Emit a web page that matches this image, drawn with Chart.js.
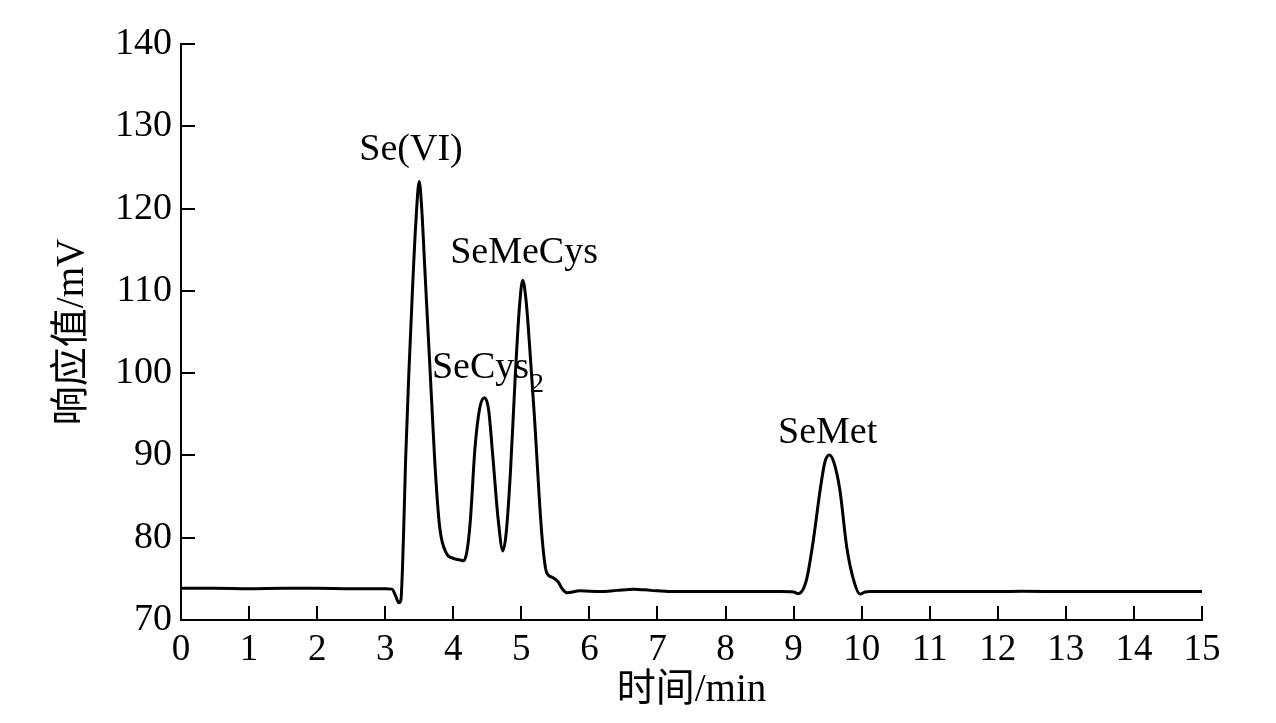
<!DOCTYPE html>
<html>
<head>
<meta charset="utf-8">
<title>Se species chromatogram</title>
<script src="https://cdn.jsdelivr.net/npm/chart.js@4"></script>
<style>
  html, body { margin: 0; padding: 0; background: #fff; }
  #wrap { width: 1276px; height: 723px; }
</style>
</head>
<body>
<div id="wrap"><canvas id="chroma" width="1276" height="723"></canvas></div>
<script>
// retention time (min) and detector response (mV)
const timeMin = [
    0, 0.5, 1, 1.5, 2, 2.5, 3.0, 3.1,
    3.15, 3.2, 3.23, 3.27, 3.3, 3.35, 3.4, 3.45, 3.5,
    3.54, 3.58, 3.63, 3.68, 3.73, 3.8, 3.9, 4.0, 4.1, 4.15,
    4.2, 4.25, 4.32, 4.39, 4.46, 4.52, 4.58, 4.66, 4.73,
    4.78, 4.84, 4.91, 4.97, 5.02, 5.07, 5.12, 5.19, 5.3, 5.37,
    5.45, 5.54, 5.6, 5.675, 5.86, 6.16, 6.4, 6.65, 6.9, 7.2,
    8, 8.8, 9.0, 9.07, 9.19, 9.29, 9.39, 9.46, 9.525, 9.59,
    9.68, 9.78, 9.88, 9.975, 10.05, 10.12, 11, 12, 12.35, 13, 14, 15
];
const responseMv = [
    73.85, 73.85, 73.8, 73.85, 73.85, 73.8, 73.8, 73.75,
    73.0, 72.1, 72.4, 80.5, 89.5, 100.5, 110.0, 118.3, 123.3,
    119.5, 113.0, 105.0, 97.0, 89.0, 81.3, 78.1, 77.5, 77.3, 77.2,
    78.3, 82.0, 91.0, 95.8, 97.0, 95.5, 90.0, 82.2, 78.4,
    80.8, 88.0, 99.5, 107.8, 111.3, 108.8, 103.5, 95.0, 80.5, 75.8,
    75.2, 74.65, 73.8, 73.3, 73.55, 73.45, 73.6, 73.75, 73.6, 73.45,
    73.45, 73.45, 73.4, 73.2, 74.9, 79.7, 85.8, 89.2, 90.05, 89.2,
    85.8, 78.9, 74.9, 73.16, 73.4, 73.45, 73.45, 73.45, 73.5, 73.45, 73.45, 73.45
];

const xTickRange = [0, 15];
const yTickRange = [70, 140];

// peak labels: text, subscript, anchor time, anchor response
const peakNames = ['Se(VI)', 'SeMeCys', 'SeCys', 'SeMet'];
const peakSubs  = ['', '', '2', ''];
const peakAtMin = [3.38, 5.04, 3.687, 9.5];
const peakAtMv  = [125.9, 113.4, 99.4, 91.5];
const peakAlign = ['center', 'center', 'left', 'center'];

const serif = "'Liberation Serif', 'Times New Roman', serif";
const cjk = "'Liberation Serif', 'Noto Sans CJK SC', serif";

/* ticks are drawn pointing into the plot, like the printed figure */
const inwardTicks = {
    id: 'inwardTicks',
    afterDraw(chart) {
        const { ctx, chartArea, scales: { x, y } } = chart;
        const len = 14;
        ctx.save();
        ctx.strokeStyle = '#000';
        ctx.lineWidth = 2;
        ctx.beginPath();
        x.ticks.forEach(t => {
            if (t.value === xTickRange[0]) return;
            const px = Math.round(x.getPixelForValue(t.value));
            ctx.moveTo(px, chartArea.bottom);
            ctx.lineTo(px, chartArea.bottom - len);
        });
        y.ticks.forEach(t => {
            if (t.value === yTickRange[0]) return;
            const py = Math.round(y.getPixelForValue(t.value));
            ctx.moveTo(chartArea.left, py);
            ctx.lineTo(chartArea.left + len, py);
        });
        ctx.stroke();
        ctx.restore();
    }
};

const peakLabels = {
    id: 'peakLabels',
    afterDatasetsDraw(chart) {
        const { ctx, scales: { x, y } } = chart;
        ctx.save();
        ctx.fillStyle = '#000';
        ctx.textBaseline = 'alphabetic';
        peakNames.forEach((name, i) => {
            const px = x.getPixelForValue(peakAtMin[i]);
            const py = y.getPixelForValue(peakAtMv[i]);
            ctx.font = '38px ' + serif;
            ctx.textAlign = peakAlign[i];
            ctx.fillText(name, px, py);
            if (peakSubs[i]) {
                const w = ctx.measureText(name).width;
                ctx.font = '28px ' + serif;
                ctx.textAlign = 'left';
                ctx.fillText(peakSubs[i], px + w + 1, py + 14);
            }
        });
        ctx.restore();
    }
};

const canvas = document.getElementById('chroma');

new Chart(canvas, {
    type: 'line',
    data: {
        datasets: [{
            data: timeMin.map((t, i) => ({ x: t, y: responseMv[i] })),
            borderColor: '#000',
            borderWidth: 3,
            pointRadius: 0,
            fill: false,
            cubicInterpolationMode: 'monotone',
        }],
    },
    options: {
        responsive: false,
        animation: false,
        events: [],
        layout: { padding: { top: 44, right: 74, left: 0, bottom: 0 } },
        plugins: {
            legend: { display: false },
            tooltip: { enabled: false },
        },
        scales: {
            x: {
                type: 'linear',
                min: xTickRange[0],
                max: xTickRange[1],
                afterFit: s => { s.height = 103; },
                grid: { display: false, drawTicks: false },
                border: { display: true, color: '#000', width: 2 },
                ticks: {
                    stepSize: 1,
                    color: '#000',
                    padding: 8,
                    maxRotation: 0,
                    autoSkip: false,
                    font: { family: serif, size: 37 },
                },
                title: {
                    display: true,
                    text: '时间/min',
                    color: '#000',
                    padding: { top: 0, bottom: 9 },
                    font: { family: cjk, size: 39 },
                },
            },
            y: {
                min: yTickRange[0],
                max: yTickRange[1],
                afterFit: s => { s.width = 181; },
                grid: { display: false, drawTicks: false },
                border: { display: true, color: '#000', width: 2 },
                ticks: {
                    stepSize: 10,
                    color: '#000',
                    padding: 9,
                    font: { family: serif, size: 38 },
                },
                title: {
                    display: true,
                    text: '响应值/mV',
                    color: '#000',
                    padding: { top: 49, bottom: 0 },
                    font: { family: cjk, size: 39 },
                },
            },
        },
    },
    plugins: [inwardTicks, peakLabels],
});
</script>
</body>
</html>
